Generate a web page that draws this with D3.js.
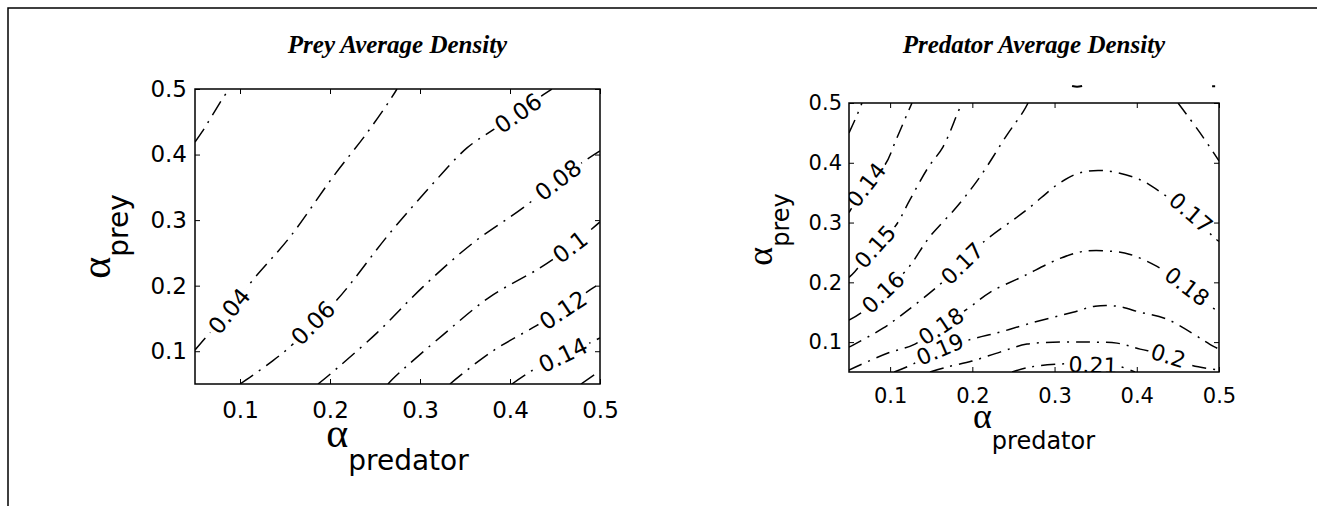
<!DOCTYPE html>
<html>
<head>
<meta charset="utf-8">
<script src="https://cdnjs.cloudflare.com/ajax/libs/d3/7.8.5/d3.min.js"></script>
<style>
  body { margin: 0; background: #fff; }
  svg { display: block; }
</style>
</head>
<body>
<svg id="fig" width="1317" height="506"></svg>
<script>
"use strict";

// ---- axes (alpha_predator on x, alpha_prey on y) ----
const xDomain = [0.05, 0.5];
const yDomain = [0.05, 0.5];
const xTicks = [0.1, 0.2, 0.3, 0.4, 0.5];
const yTicks = [0.1, 0.2, 0.3, 0.4, 0.5];
const xTickLabels = ["0.1", "0.2", "0.3", "0.4", "0.5"];
const yTickLabels = ["0.1", "0.2", "0.3", "0.4", "0.5"];

// ---- prey average density contours, points are [alpha_predator, alpha_prey] ----
const prey003 = [[0.05, 0.4192], [0.0578, 0.4345], [0.0811, 0.4863], [0.0878, 0.5]];
const prey004 = [[0.05, 0.102], [0.0578, 0.1143], [0.0878, 0.1616], [0.1144, 0.2088], [0.1556, 0.2744],
                 [0.2033, 0.3659], [0.2411, 0.4329], [0.2667, 0.4832], [0.2744, 0.5]];
const prey006 = [[0.100, 0.050], [0.1133, 0.0625], [0.1333, 0.0823], [0.1556, 0.1067], [0.1811, 0.1433],
                 [0.2078, 0.1784], [0.2667, 0.2805], [0.3111, 0.3506], [0.3522, 0.4101], [0.3811, 0.4375],
                 [0.4089, 0.4634], [0.4367, 0.4909], [0.4467, 0.5]];
const prey008 = [[0.1867, 0.05], [0.1967, 0.061], [0.2522, 0.128], [0.3033, 0.1982], [0.3589, 0.2652],
                 [0.4144, 0.3186], [0.4533, 0.3613], [0.4811, 0.3887], [0.5, 0.4055]];
const prey010 = [[0.2644, 0.05], [0.2722, 0.061], [0.3256, 0.125], [0.3778, 0.183], [0.4333, 0.2271],
                 [0.4667, 0.2591], [0.5, 0.2973]];
const prey012 = [[0.3333, 0.05], [0.3778, 0.0976], [0.4289, 0.1387], [0.4589, 0.1631], [0.4889, 0.1936],
                 [0.5, 0.2027]];
const prey014 = [[0.4022, 0.05], [0.4222, 0.0686], [0.4589, 0.0945], [0.4889, 0.1128], [0.5, 0.1204]];
const prey016 = [[0.4789, 0.05], [0.5, 0.0701]];

// [level, alpha_predator, alpha_prey]
const preyLabels = [[0.04, 0.0878, 0.1616], [0.06, 0.1811, 0.1433], [0.06, 0.4089, 0.4634],
                    [0.08, 0.4533, 0.3613], [0.1, 0.4667, 0.2591], [0.12, 0.4589, 0.1631],
                    [0.14, 0.4589, 0.0945]];

// ---- predator average density contours ----
const pred013 = [[0.05, 0.45], [0.0583, 0.475], [0.0658, 0.5]];
const pred014 = [[0.05, 0.3167], [0.0536, 0.325], [0.0707, 0.3633], [0.0938, 0.3967], [0.1072, 0.4383],
                 [0.1218, 0.485], [0.1266, 0.5]];
const pred015 = [[0.05, 0.2083], [0.0573, 0.2183], [0.0816, 0.26], [0.106, 0.2933], [0.1242, 0.3383],
                 [0.1461, 0.3917], [0.1644, 0.4267], [0.1826, 0.485], [0.1875, 0.5]];
const pred016a = [[0.05, 0.1367], [0.0658, 0.15], [0.0914, 0.1833], [0.1206, 0.2217], [0.1485, 0.2767],
                  [0.1814, 0.3267], [0.2094, 0.3767], [0.2422, 0.4467], [0.2617, 0.485], [0.2678, 0.5]];
const pred016b = [[0.4502, 0.5], [0.477, 0.45], [0.5, 0.4033]];
const pred017 = [[0.05, 0.0917], [0.0549, 0.095], [0.0914, 0.1233], [0.112, 0.1433], [0.1607, 0.1967],
                 [0.1875, 0.2317], [0.213, 0.2667], [0.2665, 0.3217], [0.3067, 0.3667], [0.331, 0.3833],
                 [0.3614, 0.3867], [0.404, 0.3717], [0.4369, 0.3433], [0.466, 0.3167], [0.4927, 0.2767],
                 [0.5, 0.2683]];
const pred018 = [[0.05, 0.0533], [0.0634, 0.0617], [0.0974, 0.0817], [0.1303, 0.0967], [0.1619, 0.1267],
                 [0.1936, 0.155], [0.2215, 0.1833], [0.2617, 0.21], [0.3067, 0.24], [0.3347, 0.2517],
                 [0.3712, 0.2517], [0.3918, 0.2467], [0.4246, 0.2267], [0.4612, 0.1933], [0.4891, 0.16],
                 [0.5, 0.1517]];
const pred019 = [[0.105, 0.05], [0.1279, 0.0633], [0.1607, 0.0883], [0.1996, 0.105], [0.2337, 0.1167],
                 [0.2665, 0.13], [0.3225, 0.15], [0.3493, 0.16], [0.376, 0.16], [0.404, 0.15],
                 [0.4369, 0.1383], [0.4927, 0.0933], [0.5, 0.0883]];
const pred020 = [[0.1485, 0.05], [0.1692, 0.0583], [0.1996, 0.0683], [0.2337, 0.0833], [0.2665, 0.0967],
                 [0.3067, 0.1], [0.3432, 0.1], [0.376, 0.0983], [0.404, 0.0883], [0.4385, 0.0772],
                 [0.4648, 0.0617], [0.5, 0.0533]];
const pred021 = [[0.2483, 0.05], [0.2702, 0.0583], [0.3067, 0.0633], [0.3468, 0.065], [0.3772, 0.06],
                 [0.3979, 0.05]];
// two stray bits of contour that show just above the axes
const predStray = [[[0.3213, 0.5283], [0.3274, 0.527], [0.3335, 0.5283]], [[0.4916, 0.528], [0.4953, 0.528]]];

const predLabels = [[0.14, 0.0707, 0.3633], [0.15, 0.0816, 0.26], [0.16, 0.0914, 0.1833],
                    [0.17, 0.1875, 0.2317], [0.17, 0.466, 0.3167], [0.18, 0.1619, 0.1267],
                    [0.18, 0.4612, 0.1933], [0.19, 0.1607, 0.0883], [0.2, 0.4385, 0.0772],
                    [0.21, 0.3468, 0.0617]];

const preyLines = [[0.03, prey003], [0.04, prey004], [0.06, prey006], [0.08, prey008],
                   [0.1, prey010], [0.12, prey012], [0.14, prey014], [0.16, prey016]];
const predLines = [[0.13, pred013], [0.14, pred014], [0.15, pred015], [0.16, pred016a], [0.16, pred016b],
                   [0.17, pred017], [0.18, pred018], [0.19, pred019], [0.2, pred020], [0.21, pred021]];

const SANS = '"DejaVu Sans", "Liberation Sans", Arial, sans-serif';
const SERIF = '"Liberation Serif", "Times New Roman", serif';

const svg = d3.select("#fig");

// page frame
svg.append("path")
    .attr("d", "M8,506V8H1317")
    .attr("fill", "none")
    .attr("stroke", "#000")
    .attr("stroke-width", 1.5);

// direction of the contour through a label point, in screen degrees
function labelAngle(lab, lines, x, y) {
    let best = null, bestD = Infinity;
    lines.filter(l => l[0] === lab[0]).forEach(l => {
        l[1].forEach((p, i) => {
            const d = (x(p[0]) - x(lab[1])) ** 2 + (y(p[1]) - y(lab[2])) ** 2;
            if (d < bestD) { bestD = d; best = [l[1], i]; }
        });
    });
    const pts = best[0], i = best[1];
    const a = pts[Math.max(i - 1, 0)], b = pts[Math.min(i + 1, pts.length - 1)];
    let ang = Math.atan2(y(b[1]) - y(a[1]), x(b[0]) - x(a[0])) * 180 / Math.PI;
    if (ang > 90) ang -= 180;
    if (ang <= -90) ang += 180;
    return ang;
}

function drawPanel(p) {
    const x = d3.scaleLinear().domain(xDomain).range([p.left, p.right]);
    const y = d3.scaleLinear().domain(yDomain).range([p.bottom, p.top]);
    const g = svg.append("g");

    g.append("clipPath").attr("id", "clip-" + p.id)
      .append("rect")
        .attr("x", p.left).attr("y", p.top)
        .attr("width", p.right - p.left).attr("height", p.bottom - p.top);

    const plot = g.append("g").attr("clip-path", `url(#clip-${p.id})`);

    const line = d3.line()
        .x(d => x(d[0]))
        .y(d => y(d[1]))
        .curve(d3.curveCatmullRom.alpha(0.5));

    plot.selectAll("path.contour")
        .data(p.lines)
        .join("path")
        .attr("class", "contour")
        .attr("d", d => line(d[1]))
        .attr("fill", "none")
        .attr("stroke", "#000")
        .attr("stroke-width", 1.5)
        .attr("stroke-dasharray", p.dash);

    if (p.stray) {
        g.selectAll("path.stray")
            .data(p.stray)
            .join("path")
            .attr("class", "stray")
            .attr("d", d => line(d))
            .attr("fill", "none")
            .attr("stroke", "#000")
            .attr("stroke-width", 2);
    }

    // contour labels, the line is broken behind each one
    plot.selectAll("g.clabel")
        .data(p.labels)
        .join("g")
        .attr("class", "clabel")
        .attr("transform", d => `translate(${x(d[1])},${y(d[2])}) rotate(${labelAngle(d, p.lines, x, y)})`)
        .each(function (d) {
            const lg = d3.select(this);
            const t = lg.append("text")
                .attr("text-anchor", "middle")
                .attr("dy", "0.36em")
                .attr("font-family", SANS)
                .attr("font-size", p.labelFont)
                .text(String(d[0]));
            const w = t.node().getComputedTextLength();
            lg.insert("rect", "text")
                .attr("x", -w / 2 - 3)
                .attr("y", -p.labelFont * 0.45)
                .attr("width", w + 6)
                .attr("height", p.labelFont * 0.9)
                .attr("fill", "#fff");
        });

    // ticks on all four sides, pointing inward
    const styleAxis = sel => {
        sel.attr("font-family", SANS).attr("font-size", p.tickFont);
        sel.select(".domain").remove();
        sel.selectAll(".tick line").attr("stroke", "#000").attr("stroke-width", 1);
        sel.selectAll(".tick text").attr("fill", "#000");
    };
    g.append("g").attr("transform", `translate(0,${p.bottom})`)
        .call(d3.axisBottom(x).tickValues(xTicks).tickSizeInner(-5).tickSizeOuter(0)
            .tickPadding(p.xPad).tickFormat((d, i) => xTickLabels[i]))
        .call(styleAxis);
    g.append("g").attr("transform", `translate(${p.left},0)`)
        .call(d3.axisLeft(y).tickValues(yTicks).tickSizeInner(-5).tickSizeOuter(0)
            .tickPadding(p.yPad).tickFormat((d, i) => yTickLabels[i]))
        .call(styleAxis);
    g.append("g").attr("transform", `translate(0,${p.top})`)
        .call(d3.axisTop(x).tickValues(xTicks).tickSizeInner(-5).tickSizeOuter(0).tickFormat(""))
        .call(styleAxis);
    g.append("g").attr("transform", `translate(${p.right},0)`)
        .call(d3.axisRight(y).tickValues(yTicks).tickSizeInner(-5).tickSizeOuter(0).tickFormat(""))
        .call(styleAxis);

    g.append("rect")
        .attr("x", p.left).attr("y", p.top)
        .attr("width", p.right - p.left).attr("height", p.bottom - p.top)
        .attr("fill", "none")
        .attr("stroke", "#000")
        .attr("stroke-width", 1.5);

    const cx = (p.left + p.right) / 2;
    const cy = (p.top + p.bottom) / 2;

    // title
    g.append("text")
        .attr("x", cx).attr("y", p.titleY)
        .attr("text-anchor", "middle")
        .attr("font-family", SERIF)
        .attr("font-style", "italic")
        .attr("font-weight", "bold")
        .attr("font-size", p.titleFont)
        .text(p.title);

    // x label: alpha with subscript
    const xl = g.append("text")
        .attr("x", cx).attr("y", p.xLabelY)
        .attr("text-anchor", "middle");
    xl.append("tspan").attr("font-family", SERIF).attr("font-size", p.alphaFont).text("α");
    xl.append("tspan").attr("font-family", SANS).attr("font-size", p.subFont)
        .attr("dy", p.subDy).text("predator");

    // y label, rotated
    const yl = g.append("text")
        .attr("transform", `translate(${p.yLabelX},${cy + p.yLabelShift}) rotate(-90)`)
        .attr("text-anchor", "middle");
    yl.append("tspan").attr("font-family", SERIF).attr("font-size", p.alphaFont).text("α");
    yl.append("tspan").attr("font-family", SANS).attr("font-size", p.subFont)
        .attr("dy", p.subDyY).text("prey");
}

drawPanel({
    id: "prey", title: "Prey Average Density",
    left: 195, right: 600, top: 89, bottom: 384,
    lines: preyLines, labels: preyLabels,
    dash: "16,7,2,7",
    tickFont: 23, labelFont: 23, xPad: 18, yPad: 8,
    titleY: 53, titleFont: 25,
    alphaFont: 42, subFont: 28, subDy: 23, subDyY: 18,
    xLabelY: 447, yLabelX: 110, yLabelShift: 0
});

drawPanel({
    id: "pred", title: "Predator Average Density",
    left: 849, right: 1219, top: 103, bottom: 372,
    lines: predLines, labels: predLabels, stray: predStray,
    dash: "14,7,2,7",
    tickFont: 21, labelFont: 22, xPad: 16, yPad: 7,
    titleY: 53, titleFont: 25,
    alphaFont: 36, subFont: 24, subDy: 21, subDyY: 17,
    xLabelY: 428, yLabelX: 772, yLabelShift: -8
});
</script>
</body>
</html>
